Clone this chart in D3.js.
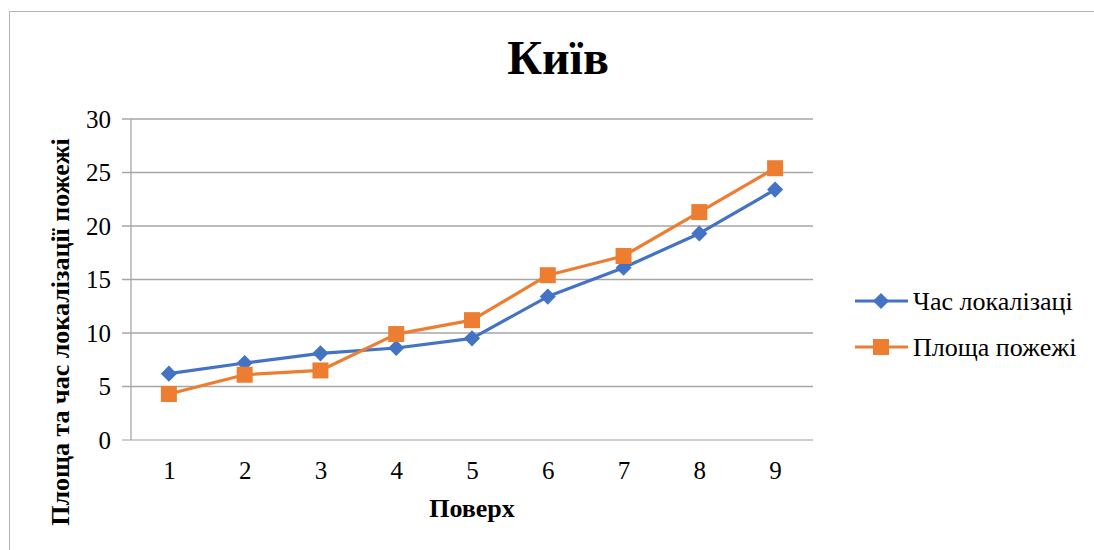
<!DOCTYPE html>
<html>
<head>
<meta charset="utf-8">
<script src="https://cdn.jsdelivr.net/npm/d3@7"></script>
<style>
  body { margin: 0; background: #fff; }
  text { font-family: "Liberation Serif", "Times New Roman", serif; }
</style>
</head>
<body>
<svg id="chart" width="1094" height="550"></svg>
<script>
var floors = [1, 2, 3, 4, 5, 6, 7, 8, 9];
var timeLoc = [6.2, 7.2, 8.1, 8.6, 9.5, 13.4, 16.1, 19.3, 23.4];
var fireArea = [4.3, 6.1, 6.5, 9.9, 11.2, 15.4, 17.2, 21.3, 25.4];
var yTicks = [0, 5, 10, 15, 20, 25, 30];
var seriesNames = ["Час локалізаці", "Площа пожежі"];

var svg = d3.select("#chart");
var margin = { top: 119, right: 281, bottom: 110, left: 131 };
var width = 1094 - margin.left - margin.right,
    height = 550 - margin.top - margin.bottom;

// chart border
svg.append("rect")
    .attr("x", 9.5).attr("y", 11.5)
    .attr("width", 1100).attr("height", 560)
    .attr("fill", "none")
    .attr("stroke", "#b4b4b4");

var g = svg.append("g")
    .attr("transform", "translate(" + margin.left + "," + margin.top + ")");

var x = d3.scalePoint()
    .domain(floors)
    .range([0, width])
    .padding(0.5);

var y = d3.scaleLinear()
    .domain([0, 30])
    .range([height, 0]);

// gridlines
g.selectAll(".grid")
    .data(yTicks)
    .enter().append("line")
    .attr("x1", -9).attr("x2", width)
    .attr("y1", function(d) { return y(d); })
    .attr("y2", function(d) { return y(d); })
    .attr("stroke", function(d) { return d === 0 ? "#bfbfbf" : "#a6a6a6"; })
    .attr("stroke-width", 1.3);

// y axis line
g.append("line")
    .attr("x1", 0).attr("x2", 0)
    .attr("y1", 0).attr("y2", height)
    .attr("stroke", "#a6a6a6")
    .attr("stroke-width", 1.3);

var yAxis = g.append("g")
    .call(d3.axisLeft(y).tickValues(yTicks).tickSize(0).tickPadding(20));
yAxis.select(".domain").remove();
yAxis.selectAll("text")
    .style("font-family", "Liberation Serif")
    .style("font-size", "25px")
    .attr("fill", "#000");

var xAxis = g.append("g")
    .attr("transform", "translate(0," + height + ")")
    .call(d3.axisBottom(x).tickSize(0).tickPadding(21));
xAxis.select(".domain").remove();
xAxis.selectAll("text")
    .style("font-family", "Liberation Serif")
    .style("font-size", "25px")
    .attr("fill", "#000");

var colors = ["#4472C4", "#ED7D31"];
var allSeries = [timeLoc, fireArea];

var line = d3.line()
    .x(function(d, i) { return x(floors[i]); })
    .y(function(d) { return y(d); });

allSeries.forEach(function(s, k) {
  g.append("path")
      .datum(s)
      .attr("d", line)
      .attr("fill", "none")
      .attr("stroke", colors[k])
      .attr("stroke-width", 3.2)
      .attr("stroke-linejoin", "round");
});

var diamond = d3.symbol().type(d3.symbolSquare).size(130);
g.selectAll(".dia")
    .data(timeLoc)
    .enter().append("path")
    .attr("d", diamond)
    .attr("transform", function(d, i) {
      return "translate(" + x(floors[i]) + "," + y(d) + ") rotate(45)";
    })
    .attr("fill", colors[0]);

g.selectAll(".sq")
    .data(fireArea)
    .enter().append("rect")
    .attr("x", function(d, i) { return x(floors[i]) - 8; })
    .attr("y", function(d) { return y(d) - 8; })
    .attr("width", 16).attr("height", 16)
    .attr("fill", colors[1]);

// title
svg.append("text")
    .attr("x", 558).attr("y", 74)
    .attr("text-anchor", "middle")
    .style("font-size", "48px")
    .style("font-weight", "bold")
    .text("Київ");

// axis titles
svg.append("text")
    .attr("x", margin.left + width / 2).attr("y", 517)
    .attr("text-anchor", "middle")
    .style("font-size", "26px")
    .style("font-weight", "bold")
    .text("Поверх");

svg.append("text")
    .attr("transform", "translate(69,332) rotate(-90)")
    .attr("text-anchor", "middle")
    .style("font-size", "26px")
    .style("font-weight", "bold")
    .text("Площа та час локалізації пожежі");

// legend
var legend = svg.append("g");
var legendY = [301, 347];
seriesNames.forEach(function(name, k) {
  var ly = legendY[k];
  legend.append("line")
      .attr("x1", 855).attr("x2", 908)
      .attr("y1", ly).attr("y2", ly)
      .attr("stroke", colors[k])
      .attr("stroke-width", 3.2);
  if (k === 0) {
    legend.append("path")
        .attr("d", diamond)
        .attr("transform", "translate(881," + ly + ") rotate(45)")
        .attr("fill", colors[k]);
  } else {
    legend.append("rect")
        .attr("x", 873).attr("y", ly - 8)
        .attr("width", 16).attr("height", 16)
        .attr("fill", colors[k]);
  }
  legend.append("text")
      .attr("x", 913).attr("y", ly + 9)
      .style("font-size", "26px")
      .text(name);
});
</script>
</body>
</html>
